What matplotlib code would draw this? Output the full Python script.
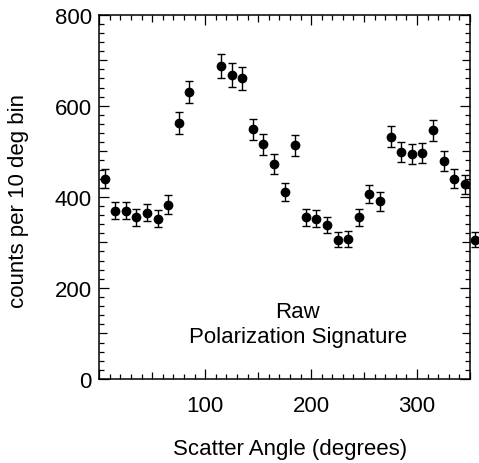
import numpy as np
import matplotlib
matplotlib.use("Agg")
import matplotlib.pyplot as plt

# --- data ---
angle = [5, 15, 25, 35, 45, 55, 65, 75, 85, 115, 125, 135, 145, 155, 165, 175,
         185, 195, 205, 215, 225, 235, 245, 255, 265, 275, 285, 295, 305, 315,
         325, 335, 345, 355]
counts = [440, 370, 370, 355, 365, 352, 383, 562, 630, 688, 668, 660, 548, 515,
          472, 410, 513, 355, 352, 338, 306, 308, 355, 406, 390, 532, 498, 495,
          497, 546, 478, 440, 428, 306]
errors = [21, 19, 19, 19, 19, 19, 20, 24, 25, 26, 26, 26, 23, 23, 22, 20,
          23, 19, 19, 18, 17, 18, 19, 20, 20, 23, 22, 22, 22, 23, 22, 21, 21, 17]

x_ticks = np.arange(0, 351, 50)
x_labels = ["" if (t % 100 or t == 0) else str(t) for t in x_ticks]
y_ticks = np.arange(0, 801, 100)
y_labels = [str(t) if t % 200 == 0 else "" for t in y_ticks]

plt.rcParams["font.family"] = ["Liberation Sans", "DejaVu Sans"]
plt.rcParams["font.size"] = 16

fig = plt.figure(figsize=(4.79, 4.64), dpi=100)
ax = fig.add_axes([99.3 / 479, 1 - 380 / 464, 370.7 / 479, 364.3 / 464])

ax.errorbar(angle, counts, yerr=errors, fmt="o", color="black", ms=6,
            elinewidth=1.0, capsize=2.8, capthick=1.0, clip_on=False)

ax.set_xlim(0, 350)
ax.set_ylim(0, 800)

ax.set_xticks(x_ticks)
ax.set_xticklabels(x_labels)
ax.set_xticks(np.arange(0, 351, 10), minor=True)
ax.set_yticks(y_ticks)
ax.set_yticklabels(y_labels)
ax.set_yticks(np.arange(0, 801, 20), minor=True)

ax.tick_params(which="both", direction="in", top=True, right=True, width=0.9)
ax.tick_params(axis="x", which="major", pad=11.5)
ax.tick_params(axis="y", which="major", pad=5.5)
ax.tick_params(which="minor", length=3.3)

for sp in ax.spines.values():
    sp.set_linewidth(1.1)

# long ticks on labelled values, medium ticks halfway
for tick, loc in zip(ax.xaxis.get_major_ticks(), x_ticks):
    L = 7.0 if loc % 100 == 0 else 5.0
    tick.tick1line.set_markersize(L)
    tick.tick2line.set_markersize(L)
for tick, loc in zip(ax.yaxis.get_major_ticks(), y_ticks):
    L = 7.5 if loc % 200 == 0 else 5.5
    tick.tick1line.set_markersize(L)
    tick.tick2line.set_markersize(L)

ax.set_xlabel("Scatter Angle (degrees)", va="center")
ax.xaxis.set_label_coords(0.514, -0.192)
ax.set_ylabel("counts per 10 deg bin", va="center")
ax.yaxis.set_label_coords(-0.217, 0.491)

ax.text(0.536, 0.184, "Raw", transform=ax.transAxes, ha="center", va="center")
ax.text(0.536, 0.1167, "Polarization Signature", transform=ax.transAxes,
        ha="center", va="center")

fig.savefig("out.png", dpi=100)
